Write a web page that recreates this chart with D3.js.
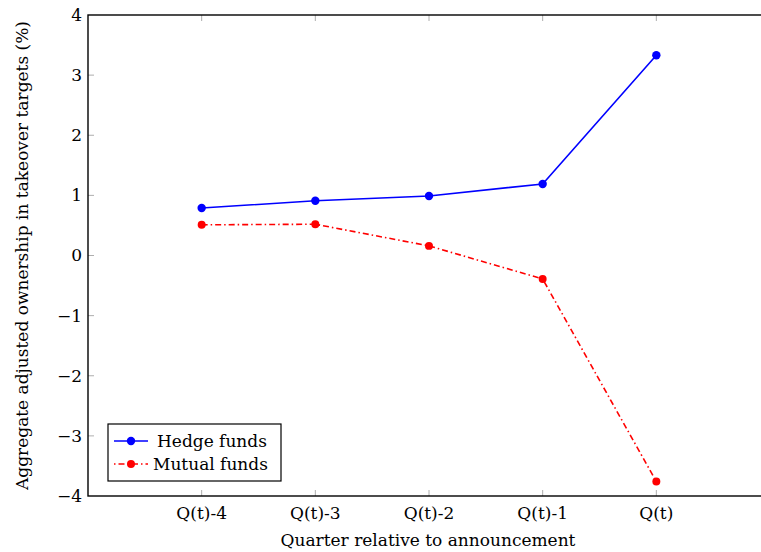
<!DOCTYPE html>
<html><head><meta charset="utf-8">
<script src="https://cdn.jsdelivr.net/npm/d3@7"></script>
<style>body{margin:0;background:#fff}svg{display:block}text{font-family:"DejaVu Serif",serif;fill:#000}</style>
</head><body>
<script>
const categories = ["Q(t)-4","Q(t)-3","Q(t)-2","Q(t)-1","Q(t)"];
const hedgeFunds = [0.79, 0.91, 0.99, 1.19, 3.33];
const mutualFunds = [0.51, 0.52, 0.16, -0.39, -3.76];
const yTicks = [-4,-3,-2,-1,0,1,2,3,4];
const seriesNames = ["Hedge funds","Mutual funds"];

const W=761,H=552,FS=17;
const svg=d3.select("body").append("svg").attr("width",W).attr("height",H);
const L=88,T=15,B=496,R=770;
const x=d3.scaleLinear().domain([-1,5]).range([L,R]);
const y=d3.scaleLinear().domain([-4,4]).range([B,T]);
const idx=categories.map((c,i)=>i);

const g=svg.append("g");
g.selectAll(".yt").data(yTicks.filter(v=>v>-4&&v<4)).join("line")
 .attr("x1",L).attr("x2",L+6).attr("y1",d=>y(d)).attr("y2",d=>y(d)).attr("stroke","#999").attr("stroke-width",0.8);
g.selectAll(".xtb").data(idx).join("line")
 .attr("x1",d=>x(d)).attr("x2",d=>x(d)).attr("y1",B).attr("y2",B-6).attr("stroke","#999").attr("stroke-width",0.8);
g.selectAll(".xtt").data(idx).join("line")
 .attr("x1",d=>x(d)).attr("x2",d=>x(d)).attr("y1",T).attr("y2",T+6).attr("stroke","#999").attr("stroke-width",0.8);

svg.append("rect").attr("x",L).attr("y",T).attr("width",R-L).attr("height",B-T).attr("fill","none").attr("stroke","#000").attr("stroke-width",1.4);

svg.selectAll(".ytl").data(yTicks).join("text").attr("x",L-6).attr("y",d=>y(d)).attr("dy","0.35em")
 .attr("text-anchor","end").attr("font-size",FS).text(d=>d<0?"\u2212"+Math.abs(d):d);
svg.selectAll(".xtl").data(idx).join("text").attr("x",d=>x(d)).attr("y",B+23)
 .attr("text-anchor","middle").attr("font-size",FS).text(d=>categories[d]);

svg.append("text").attr("x",428).attr("y",546).attr("text-anchor","middle").attr("font-size",FS).text("Quarter relative to announcement");
svg.append("text").attr("transform",`translate(28,${(T+B)/2}) rotate(-90)`).attr("text-anchor","middle").attr("font-size",FS)
 .text("Aggregate adjusted ownership in takeover targets (%)");

const line=d3.line().x((d,i)=>x(i)).y(d=>y(d));
svg.append("path").datum(hedgeFunds).attr("d",line).attr("fill","none").attr("stroke","#0000ff").attr("stroke-width",1.6);
svg.append("path").datum(mutualFunds).attr("d",line).attr("fill","none").attr("stroke","#ff0000").attr("stroke-width",1.6).attr("stroke-dasharray","6,3,1.5,3");
svg.selectAll(".hm").data(hedgeFunds).join("circle").attr("cx",(d,i)=>x(i)).attr("cy",d=>y(d)).attr("r",4.2).attr("fill","#0000ff");
const msym=d3.symbol().type(d3.symbolCircle).size(50);
svg.selectAll(".mm").data(mutualFunds).join("path").attr("d",msym)
 .attr("transform",(d,i)=>`translate(${x(i)},${y(d)})`).attr("fill","#ff0000");

const lg=svg.append("g");
lg.append("rect").attr("x",108).attr("y",424).attr("width",173).attr("height",57).attr("fill","#fff").attr("stroke","#000").attr("stroke-width",1.2);
lg.append("line").attr("x1",114).attr("x2",148).attr("y1",441).attr("y2",441).attr("stroke","#0000ff").attr("stroke-width",1.6);
lg.append("circle").attr("cx",131).attr("cy",441).attr("r",4.2).attr("fill","#0000ff");
lg.append("line").attr("x1",114).attr("x2",148).attr("y1",464).attr("y2",464).attr("stroke","#ff0000").attr("stroke-width",1.6).attr("stroke-dasharray","1.5,3,6,3");
lg.append("path").attr("d",msym).attr("transform","translate(131,464)").attr("fill","#ff0000");
lg.append("text").attr("x",157).attr("y",441).attr("dy","0.35em").attr("font-size",FS).text(seriesNames[0]);
lg.append("text").attr("x",153).attr("y",464).attr("dy","0.35em").attr("font-size",FS).text(seriesNames[1]);
</script>
</body></html>
